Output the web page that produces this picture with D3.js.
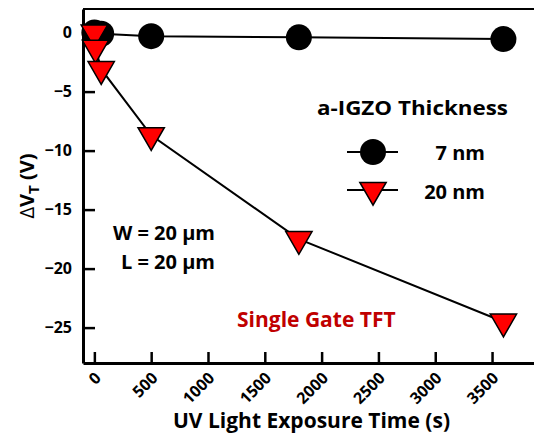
<!DOCTYPE html>
<html>
<head>
<meta charset="utf-8">
<script src="https://cdn.jsdelivr.net/npm/d3@7"></script>
<style>
  body { margin: 0; background: #fff; }
  text { font-family: "Open Sans", sans-serif; font-weight: bold; }
</style>
</head>
<body>
<div id="chart"></div>
<script>
// data
const timeThin = [0, 10, 60, 500, 1800, 3600];
const dvtThin = [0, -0.05, -0.1, -0.3, -0.4, -0.55];
const timeThick = [0, 10, 60, 500, 1800, 3600];
const dvtThick = [0, -1.3, -3.1, -8.7, -17.5, -24.5];
const xTicks = [0, 500, 1000, 1500, 2000, 2500, 3000, 3500];
const yTicks = [0, -5, -10, -15, -20, -25];

const width = 534, height = 439;
const plotLeft = 83, plotTop = 9, plotBottom = 363;

const svg = d3.select("#chart").append("svg")
    .attr("width", width)
    .attr("height", height);

const x = d3.scaleLinear().domain([-100, 3900]).range([plotLeft, 537.5]);
const y = d3.scaleLinear().domain([2, -28]).range([plotTop, plotBottom]);

// frame top
svg.append("line")
    .attr("x1", plotLeft).attr("x2", width)
    .attr("y1", plotTop).attr("y2", plotTop)
    .attr("stroke", "#000").attr("stroke-width", 2);

const yAxis = svg.append("g")
    .attr("transform", `translate(${plotLeft},0)`)
    .call(d3.axisLeft(y).tickValues(yTicks).tickSize(-12).tickSizeOuter(0).tickPadding(11));
yAxis.select(".domain").attr("stroke-width", 3);
yAxis.selectAll(".tick line").attr("stroke-width", 2.5);
yAxis.selectAll(".tick text").attr("font-size", 16).attr("fill", "#000");

const xAxis = svg.append("g")
    .attr("transform", `translate(0,${plotBottom})`)
    .call(d3.axisBottom(x).tickValues(xTicks).tickFormat(d3.format("d")).tickSize(-11).tickSizeOuter(0));
xAxis.select(".domain").attr("stroke-width", 3);
xAxis.selectAll(".tick line").attr("stroke-width", 2.5);
xAxis.selectAll(".tick text")
    .attr("font-size", 16).attr("fill", "#000")
    .attr("text-anchor", "end")
    .attr("y", 0).attr("dy", 0)
    .attr("transform", "translate(7,16) rotate(-45)");

// axis titles
svg.append("text")
    .attr("x", (plotLeft + width) / 2 + 3).attr("y", 428)
    .attr("text-anchor", "middle").attr("font-size", 21)
    .text("UV Light Exposure Time (s)");

const yt = svg.append("text")
    .attr("transform", `translate(34,${(plotTop + plotBottom) / 2}) rotate(-90)`)
    .attr("text-anchor", "middle").attr("font-size", 20);
yt.append("tspan").attr("font-weight", "normal").text("\u0394");
yt.append("tspan").text("V");
yt.append("tspan").attr("font-size", 15).attr("dy", 5).text("T");
yt.append("tspan").attr("dy", -5).text(" (V)");

const line = d3.line().x(d => x(d[0])).y(d => y(d[1]));
const thin = timeThin.map((t, i) => [t, dvtThin[i]]);
const thick = timeThick.map((t, i) => [t, dvtThick[i]]);

svg.append("path").datum(thin).attr("d", line)
    .attr("fill", "none").attr("stroke", "#000").attr("stroke-width", 2);
svg.append("path").datum(thick).attr("d", line)
    .attr("fill", "none").attr("stroke", "#000").attr("stroke-width", 2);

const tri = d3.symbol().type(d3.symbolTriangle).size(300);

svg.append("g").selectAll("circle").data(thin).join("circle")
    .attr("cx", d => x(d[0])).attr("cy", d => y(d[1]))
    .attr("r", 13).attr("fill", "#000");

svg.append("g").selectAll("path").data(thick).join("path")
    .attr("d", tri)
    .attr("transform", d => `translate(${x(d[0])},${y(d[1])}) rotate(180)`)
    .attr("fill", "#ff0000").attr("stroke", "#000").attr("stroke-width", 1.5);

// legend
const lg = svg.append("g");
lg.append("text").attr("x", 317).attr("y", 115).attr("font-size", 20)
    .attr("textLength", 191).attr("lengthAdjust", "spacingAndGlyphs")
    .text("a-IGZO Thickness");
lg.append("line").attr("x1", 347).attr("x2", 398).attr("y1", 152).attr("y2", 152)
    .attr("stroke", "#000").attr("stroke-width", 2);
lg.append("circle").attr("cx", 373).attr("cy", 152).attr("r", 13).attr("fill", "#000");
lg.append("text").attr("x", 485).attr("y", 160).attr("text-anchor", "end").attr("font-size", 20)
    .text("7 nm");
lg.append("line").attr("x1", 347).attr("x2", 398).attr("y1", 190).attr("y2", 190)
    .attr("stroke", "#000").attr("stroke-width", 2);
lg.append("path").attr("d", tri).attr("transform", "translate(373,190) rotate(180)")
    .attr("fill", "#ff0000").attr("stroke", "#000").attr("stroke-width", 1.5);
lg.append("text").attr("x", 485).attr("y", 199).attr("text-anchor", "end").attr("font-size", 20)
    .text("20 nm");

// annotations
svg.append("text").attr("x", 215).attr("y", 240).attr("text-anchor", "end").attr("font-size", 20)
    .text("W = 20 \u03bcm");
svg.append("text").attr("x", 215).attr("y", 269).attr("text-anchor", "end").attr("font-size", 20)
    .text("L = 20 \u03bcm");
svg.append("text").attr("x", 237).attr("y", 327).attr("font-size", 21).attr("fill", "#c00000")
    .text("Single Gate TFT");
</script>
</body>
</html>
